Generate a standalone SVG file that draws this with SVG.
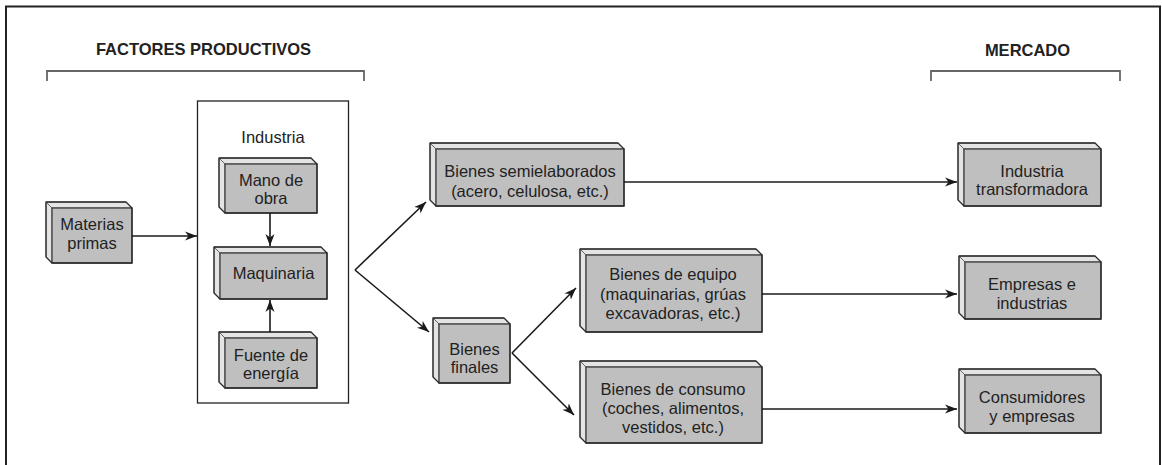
<svg xmlns="http://www.w3.org/2000/svg" width="1162" height="465" viewBox="0 0 1162 465">
<style>
text{font-family:"Liberation Sans",Arial,sans-serif;fill:#222}
.t{font-size:16.5px;text-anchor:middle}
.h{font-size:16.5px;font-weight:bold;text-anchor:middle}
.face{fill:#bfbfbf;stroke:#333;stroke-width:1.2}
.bev{fill:#e4e4e4;stroke:#555;stroke-width:0.8}
.out{fill:none;stroke:#2a2a2a;stroke-width:1.3;stroke-linejoin:round}
.br{fill:none;stroke:#666;stroke-width:1.8}
.c{fill:none;stroke:#1a1a1a;stroke-width:1.6;marker-end:url(#ah)}
</style>
<defs>
<marker id="ah" markerUnits="userSpaceOnUse" markerWidth="13" markerHeight="10" refX="12" refY="5" orient="auto">
<path d="M0,0.5 L12,5 L0,9.5 L3.5,5 z" fill="#1a1a1a"/>
</marker>
</defs>
<rect width="1162" height="465" fill="#fff"/>
<path d="M6,465 V6.5 H1160 V465" fill="none" stroke="#222" stroke-width="2"/>

<g id="titles">
<text class="h" x="203.5" y="55">FACTORES PRODUCTIVOS</text>
<path class="br" d="M47,81 V71 H364 V81"/>
<text class="h" x="1027.5" y="56">MERCADO</text>
<path class="br" d="M931,81 V71 H1120 V81"/>
</g>

<g id="industria">
<rect x="197.5" y="101" width="151" height="302" fill="none" stroke="#222" stroke-width="1.3"/>
<text class="t" x="273" y="143">Industria</text>
</g>

<g id="materias">
<polygon class="bev" points="46,202 126,202 132,208 52,208"/>
<polygon class="bev" points="46,202 52,208 52,263 46,257"/>
<rect class="face" x="52" y="208" width="80" height="55"/>
<polygon class="out" points="46,202 126,202 132,208 132,263 52,263 46,257"/>
<text class="t" x="92" y="230">Materias</text>
<text class="t" x="92" y="248.5">primas</text>
</g>

<g id="mano">
<polygon class="bev" points="219,158 311,158 317,164 225,164"/>
<polygon class="bev" points="219,158 225,164 225,213 219,207"/>
<rect class="face" x="225" y="164" width="92" height="49"/>
<polygon class="out" points="219,158 311,158 317,164 317,213 225,213 219,207"/>
<text class="t" x="271" y="185.5">Mano de</text>
<text class="t" x="271" y="204">obra</text>
</g>

<g id="maquinaria">
<polygon class="bev" points="214,247 321,247 327,253 220,253"/>
<polygon class="bev" points="214,247 220,253 220,299 214,293"/>
<rect class="face" x="220" y="253" width="107" height="46"/>
<polygon class="out" points="214,247 321,247 327,253 327,299 220,299 214,293"/>
<text class="t" x="273.5" y="278.5">Maquinaria</text>
</g>

<g id="fuente">
<polygon class="bev" points="219,332 311,332 317,338 225,338"/>
<polygon class="bev" points="219,332 225,338 225,388 219,382"/>
<rect class="face" x="225" y="338" width="92" height="50"/>
<polygon class="out" points="219,332 311,332 317,338 317,388 225,388 219,382"/>
<text class="t" x="271" y="360.5">Fuente de</text>
<text class="t" x="271" y="379">energía</text>
</g>

<g id="semielaborados">
<polygon class="bev" points="430,143 618,143 624,149 436,149"/>
<polygon class="bev" points="430,143 436,149 436,206 430,200"/>
<rect class="face" x="436" y="149" width="188" height="57"/>
<polygon class="out" points="430,143 618,143 624,149 624,206 436,206 430,200"/>
<text class="t" x="530" y="177">Bienes semielaborados</text>
<text class="t" x="530" y="196.5">(acero, celulosa, etc.)</text>
</g>

<g id="finales">
<polygon class="bev" points="433,318 504,318 510,324 439,324"/>
<polygon class="bev" points="433,318 439,324 439,383 433,377"/>
<rect class="face" x="439" y="324" width="71" height="59"/>
<polygon class="out" points="433,318 504,318 510,324 510,383 439,383 433,377"/>
<text class="t" x="474.5" y="354.5">Bienes</text>
<text class="t" x="474.5" y="373">finales</text>
</g>

<g id="equipo">
<polygon class="bev" points="580,249 756,249 762,255 586,255"/>
<polygon class="bev" points="580,249 586,255 586,332 580,326"/>
<rect class="face" x="586" y="255" width="176" height="77"/>
<polygon class="out" points="580,249 756,249 762,255 762,332 586,332 580,326"/>
<text class="t" x="673" y="280">Bienes de equipo</text>
<text class="t" x="673" y="299.5">(maquinarias, grúas</text>
<text class="t" x="673" y="318.5">excavadoras, etc.)</text>
</g>

<g id="consumo">
<polygon class="bev" points="580,361 756,361 762,367 586,367"/>
<polygon class="bev" points="580,361 586,367 586,443 580,437"/>
<rect class="face" x="586" y="367" width="176" height="76"/>
<polygon class="out" points="580,361 756,361 762,367 762,443 586,443 580,437"/>
<text class="t" x="673" y="395">Bienes de consumo</text>
<text class="t" x="673" y="414">(coches, alimentos,</text>
<text class="t" x="673" y="433">vestidos, etc.)</text>
</g>

<g id="transformadora">
<polygon class="bev" points="958,143 1095,143 1101,149 964,149"/>
<polygon class="bev" points="958,143 964,149 964,206 958,200"/>
<rect class="face" x="964" y="149" width="137" height="57"/>
<polygon class="out" points="958,143 1095,143 1101,149 1101,206 964,206 958,200"/>
<text class="t" x="1032" y="176.5">Industria</text>
<text class="t" x="1032" y="195">transformadora</text>
</g>

<g id="empresas">
<polygon class="bev" points="959,256 1095,256 1101,262 965,262"/>
<polygon class="bev" points="959,256 965,262 965,319 959,313"/>
<rect class="face" x="965" y="262" width="136" height="57"/>
<polygon class="out" points="959,256 1095,256 1101,262 1101,319 965,319 959,313"/>
<text class="t" x="1032" y="290">Empresas e</text>
<text class="t" x="1032" y="308.5">industrias</text>
</g>

<g id="consumidores">
<polygon class="bev" points="959,369 1095,369 1101,375 965,375"/>
<polygon class="bev" points="959,369 965,375 965,433 959,427"/>
<rect class="face" x="965" y="375" width="136" height="58"/>
<polygon class="out" points="959,369 1095,369 1101,375 1101,433 965,433 959,427"/>
<text class="t" x="1032" y="403">Consumidores</text>
<text class="t" x="1032" y="421.5">y empresas</text>
</g>

<g id="connectors">
<path class="c" d="M132,236 H197"/>
<path class="c" d="M270,213 V246"/>
<path class="c" d="M270,332 V300"/>
<path class="c" d="M355,270 L426,202"/>
<path class="c" d="M355,270 L429,332"/>
<path class="c" d="M512,353 L576,288"/>
<path class="c" d="M512,353 L574,415"/>
<path class="c" d="M624,182 H957"/>
<path class="c" d="M762,294 H957"/>
<path class="c" d="M762,409 H957"/>
</g>
</svg>
